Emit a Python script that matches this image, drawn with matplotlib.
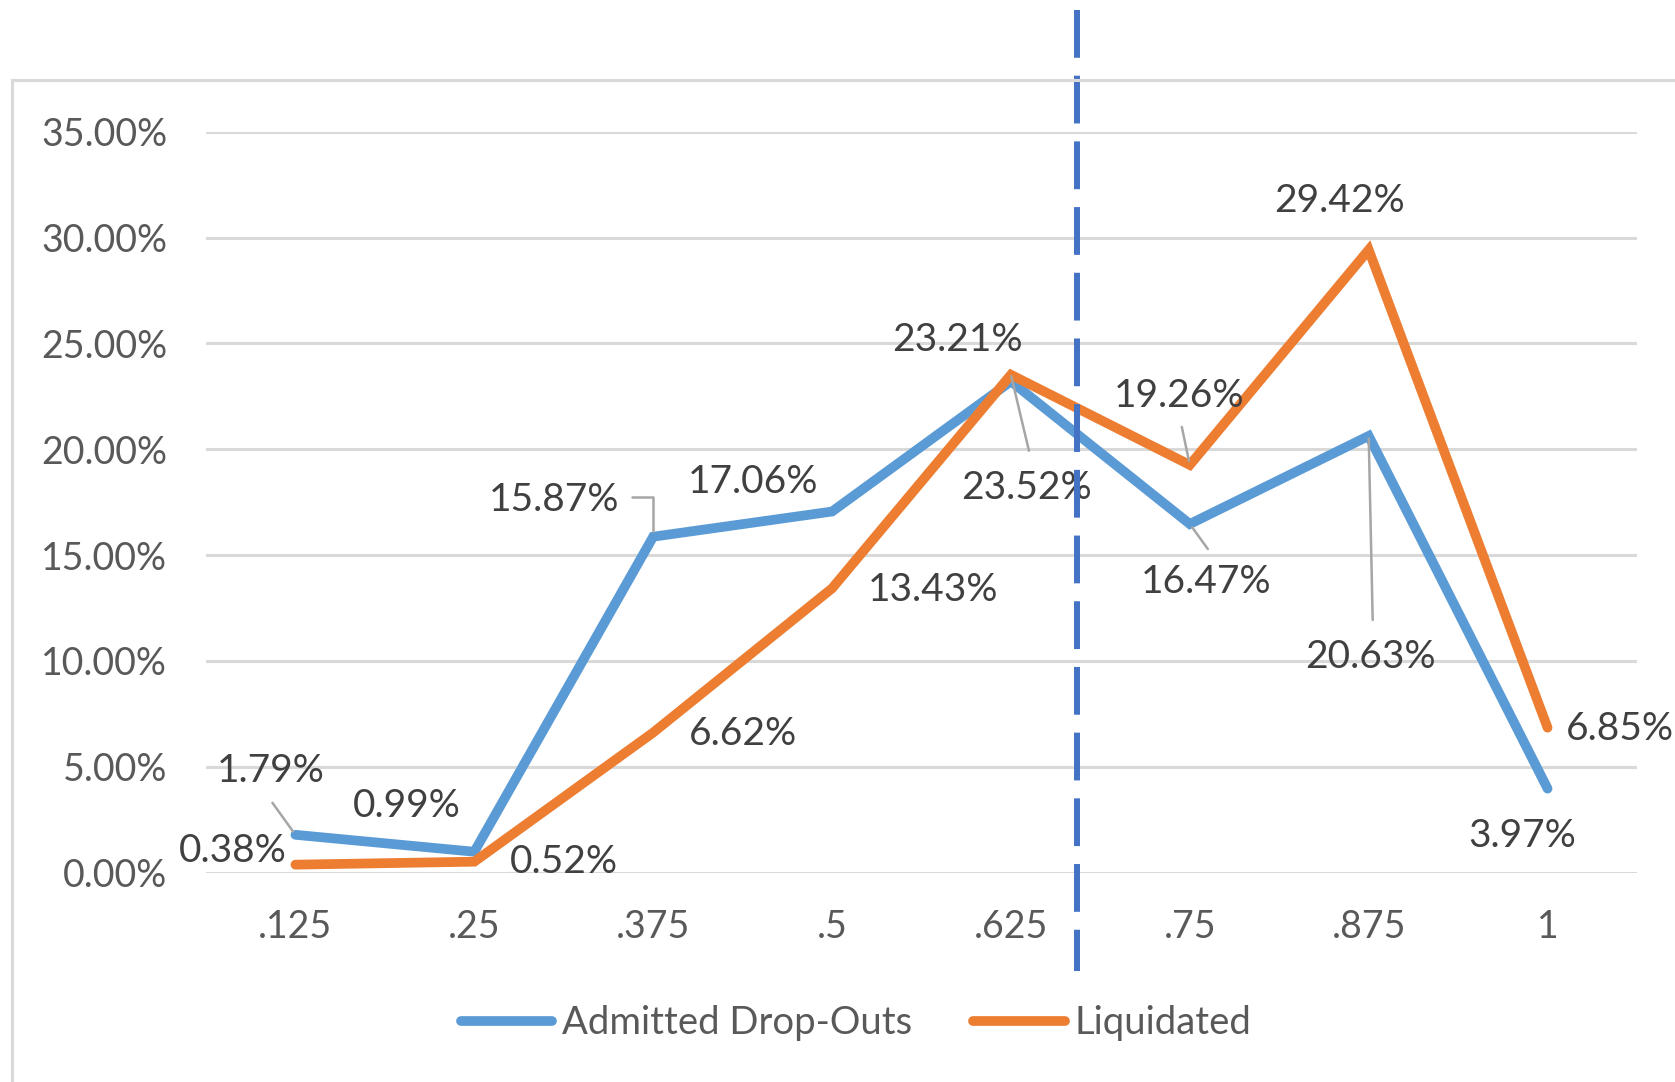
import matplotlib
matplotlib.use("Agg")
import matplotlib.pyplot as plt
from matplotlib.patches import Rectangle
from matplotlib.ticker import FuncFormatter

# ----------------------------
# Data
# ----------------------------
categories = [".125", ".25", ".375", ".5", ".625", ".75", ".875", "1"]
dropouts = [1.79, 0.99, 15.87, 17.06, 23.21, 16.47, 20.63, 3.97]
liquidated = [0.38, 0.52, 6.62, 13.43, 23.52, 19.26, 29.42, 6.85]
y_ticks = [0, 5, 10, 15, 20, 25, 30, 35]
cutoff = 4.367  # position of the dashed marker, in category units

# label offsets (pixels from the point)
dropout_offsets = [(-25, 64), (-68, 46), (-99, 37), (-79, 30),
                   (-53, 41), (16, -58), (2, -221), (-25, -47)]
liquid_offsets = [(-63, 14), (90, 0), (90, -1), (101, -2),
                  (16, -113), (-11, 69), (-29, 49), (72, -1)]

BLUE = "#5B9BD5"
ORANGE = "#ED7D31"
GRID = "#D9D9D9"
TICK = "#595959"
LABEL = "#404040"
LEADER = "#A6A6A6"

plt.rcParams["font.family"] = ["Lato", "DejaVu Sans"]

W, H = 1675, 1082
fig = plt.figure(figsize=(W / 100, H / 100), dpi=100)
ax = fig.add_axes([206 / W, 209.3 / H, 1431 / W, 741 / H])

x = list(range(len(categories)))
ax.plot(x, dropouts, color=BLUE, lw=7, solid_capstyle="round",
        solid_joinstyle="miter", label="Admitted Drop-Outs", zorder=3)
ax.plot(x, liquidated, color=ORANGE, lw=7, solid_capstyle="round",
        solid_joinstyle="miter", label="Liquidated", zorder=3)

ax.set_xlim(-0.5, len(categories) - 0.5)
ax.set_ylim(0, 35)
ax.set_yticks(y_ticks)
ax.yaxis.set_major_formatter(FuncFormatter(lambda v, _: f"{v:.2f}%"))
ax.set_xticks(x)
ax.set_xticklabels(categories)
ax.tick_params(length=0, labelsize=27, labelcolor=TICK)
ax.tick_params(axis="y", pad=28)
ax.tick_params(axis="x", pad=26)
ax.grid(axis="y", color=GRID, lw=2.2)
ax.set_axisbelow(True)
for s in ax.spines.values():
    s.set_visible(False)

# data labels
for series, offs in ((dropouts, dropout_offsets), (liquidated, liquid_offsets)):
    for i, (v, (dx, dy)) in enumerate(zip(series, offs)):
        ax.annotate(f"{v:.2f}%", xy=(i, v), xytext=(dx, dy),
                    textcoords="offset pixels", ha="center", va="center",
                    fontsize=28, color=LABEL, zorder=5, annotation_clip=False)

# leader lines
def leader(i, v, dx, dy, shrink=3, style="arc3"):
    ax.annotate("", xy=(i, v), xytext=(dx, dy), textcoords="offset pixels",
                arrowprops=dict(arrowstyle="-", color=LEADER, lw=1.8,
                                shrinkA=0, shrinkB=shrink,
                                connectionstyle=style), zorder=4)

leader(0, dropouts[0], -23, 32)
leader(2, dropouts[2], -21, 40, shrink=4,
       style="angle,angleA=0,angleB=90,rad=0")
leader(4, liquidated[4], 18, -76, shrink=1)
leader(5, liquidated[5], -8, 38)
leader(5, dropouts[5], 18, -25)
leader(6, dropouts[6], 4, -184, shrink=2)

# dashed marker
ax.plot([cutoff, cutoff], [(1072 - 209.3) / 741, (111 - 209.3) / 741],
        transform=ax.get_xaxis_transform(), color="#4472C4", lw=4.3,
        dashes=(8, 3), solid_capstyle="butt", clip_on=False, zorder=6)

# chart area border
fig.patches.append(Rectangle((12 / W, -0.1), 1.2, (H - 80) / H + 0.1,
                             transform=fig.transFigure, fill=False,
                             edgecolor=GRID, lw=2.2))

leg = fig.legend(loc="center", bbox_to_anchor=(856 / W, 59 / H), ncol=2,
                 frameon=False, fontsize=27.5, handlelength=2.4,
                 handletextpad=0.25, columnspacing=1.6)
for t in leg.get_texts():
    t.set_color(TICK)

fig.savefig("out.png", dpi=100)
